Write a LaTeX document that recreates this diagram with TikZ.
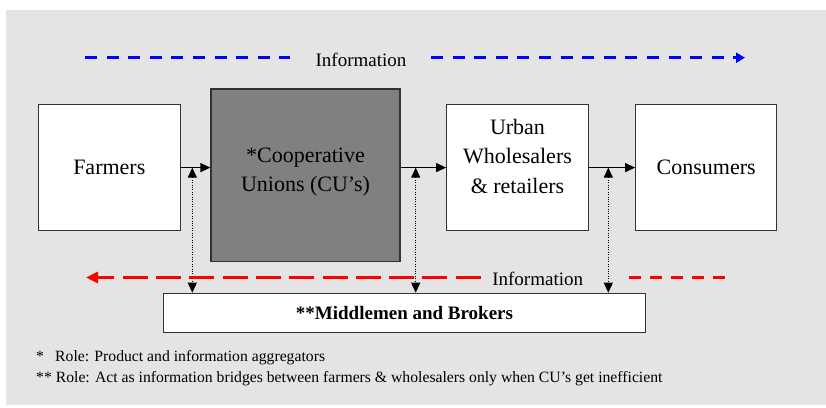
\documentclass[tikz,border=0pt]{standalone}
\usepackage{fontspec}
\setmainfont{Liberation Serif}
\usetikzlibrary{arrows.meta}
\definecolor{bggray}{RGB}{228,228,228}
\definecolor{cugray}{RGB}{128,128,128}
\definecolor{edge}{RGB}{50,50,50}
\begin{document}
\begin{tikzpicture}[x=1pt,y=-1pt,
  box/.style={draw=edge, line width=1.2pt, fill=white, inner sep=0pt, align=center,
    font=\fontsize{22}{29.5}\selectfont},
  boxtext/.style={inner sep=0pt, align=center, font=\fontsize{22}{29.5}\selectfont},
  flow/.style={line width=1.2pt, -{Triangle[length=10pt,width=9pt]}},
  link/.style={line width=0.9pt, dash pattern=on 1pt off 1.4pt,
    {Triangle[length=10pt,width=9pt]}-{Triangle[length=10pt,width=9pt]}},
  infotext/.style={inner sep=0pt, font=\fontsize{19}{22}\selectfont},
  bluedash/.style={draw=blue, line width=3pt, dash pattern=on 12pt off 9.6pt},
  reddash/.style={draw=red, line width=3pt},
  note/.style={inner sep=0pt, anchor=west, font=\fontsize{15.7}{18}\selectfont}
]
\useasboundingbox (0,0) rectangle (826,407);
\fill[bggray] (6,10) rectangle (826,405);

% boxes
\node[box, minimum width=142pt, minimum height=125.6pt] (farm) at (109.3,167.6) {Farmers};
\node[box, fill=cugray, minimum width=189pt, minimum height=172.7pt] (cu) at (305.5,175.4) {};
\node[boxtext] (cutext) at (305.5,172.3) {*Cooperative\\Unions (CU’s)};
\node[box, minimum width=141.6pt, minimum height=125.6pt] (urban) at (517.5,167.6) {};
\node[boxtext] (urbantext) at (517.5,156.3) {Urban\\Wholesalers\\\&\ retailers};
\node[box, minimum width=141pt, minimum height=125.6pt] (cons) at (706.2,167.6) {Consumers};
\node[box, minimum width=482.4pt, minimum height=39.4pt,
  font=\fontsize{19}{22}\selectfont\bfseries] (mid) at (404.5,313) {**Middlemen and Brokers};

% flow arrows
\draw[flow] (farm.east) -- (farm.east -| cu.west);
\draw[flow] (cu.east |- urban.west) -- (urban.west);
\draw[flow] (urban.east) -- (cons.west);

% dotted links
\coordinate (d1) at (192.3,167.6);
\coordinate (d2) at (415.7,167.6);
\coordinate (d3) at (608.3,167.6);
\draw[link] (d1) -- (d1 |- mid.north);
\draw[link] (d2) -- (d2 |- mid.north);
\draw[link] (d3) -- (d3 |- mid.north);

% top information arrow
\coordinate (b1) at (85,57.7);
\coordinate (b2) at (290,57.7);
\coordinate (b3) at (431,57.7);
\coordinate (b4) at (745,57.7);
\node[infotext] (infotop) at (361,59.5) {Information};
\draw[bluedash] (b1) -- (b2);
\draw[bluedash, -{Triangle[length=9pt,width=10pt]}] (b3) -- (b4);

% bottom information arrow
\coordinate (r1) at (480.7,277.5);
\coordinate (r2) at (86,277.5);
\coordinate (r3) at (629,277.5);
\coordinate (r4) at (725,277.5);
\node[infotext] (infobot) at (537.7,279) {Information};
\draw[reddash, dash pattern=on 25pt off 8.3pt, -{Triangle[length=12pt,width=11pt]}] (r1) -- (r2);
\draw[reddash, dash pattern=on 12pt off 9pt] (r3) -- (r4);

% footnotes
\node[note] (n1) at (36,357.5) {\makebox[19pt][l]{*}Role: Product and information aggregators};
\node[note] (n2) at (36,379) {** Role: Act as information bridges between farmers \& wholesalers only when CU’s get inefficient};
\end{tikzpicture}
\end{document}
